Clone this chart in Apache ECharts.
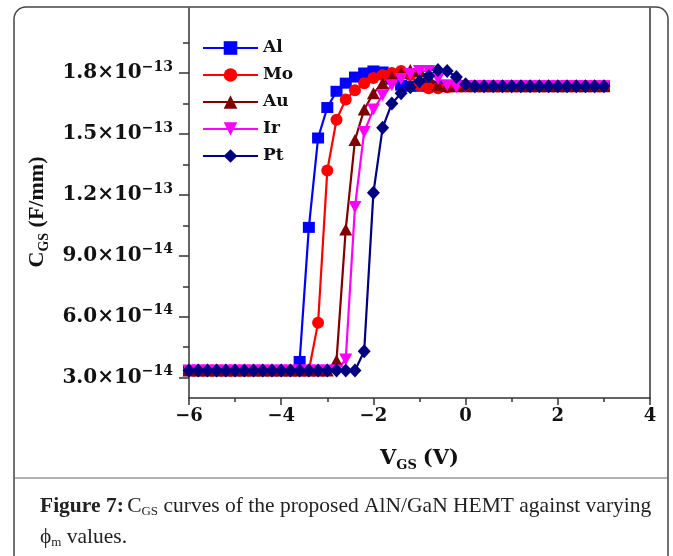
<!DOCTYPE html>
<html>
<head>
<meta charset="utf-8">
<script src="https://cdn.jsdelivr.net/npm/echarts@6/dist/echarts.min.js"></script>
<style>
html, body { margin: 0; padding: 0; background: #fff; }
#chart { width: 673px; height: 556px; }
</style>
</head>
<body>
<div id="chart"></div>
<script>
// gate voltage (V), same sweep for every metal
var vgs = [-6.0, -5.8, -5.6, -5.4, -5.2, -5.0, -4.8, -4.6, -4.4, -4.2,
  -4.0, -3.8, -3.6, -3.4, -3.2, -3.0, -2.8, -2.6, -2.4, -2.2,
  -2.0, -1.8, -1.6, -1.4, -1.2, -1.0, -0.8, -0.6, -0.4, -0.2,
  0.0, 0.2, 0.4, 0.6, 0.8, 1.0, 1.2, 1.4, 1.6, 1.8,
  2.0, 2.2, 2.4, 2.6, 2.8, 3.0];

// Cgs in units of 1e-14 F/mm
var al = [3.35, 3.35, 3.35, 3.35, 3.35, 3.35, 3.35, 3.35, 3.35, 3.35,
  3.35, 3.35, 3.8, 10.4, 14.8, 16.3, 17.1, 17.5, 17.8, 18.0,
  18.1, 18.05, 17.7, 17.4, 17.35, 17.35, 17.35, 17.35, 17.35, 17.35,
  17.35, 17.35, 17.35, 17.35, 17.35, 17.35, 17.35, 17.35, 17.35, 17.35,
  17.35, 17.35, 17.35, 17.35, 17.35, 17.35];
var mo = [3.35, 3.35, 3.35, 3.35, 3.35, 3.35, 3.35, 3.35, 3.35, 3.35,
  3.35, 3.35, 3.35, 3.35, 5.7, 13.2, 15.7, 16.7, 17.15, 17.5,
  17.75, 17.9, 18.0, 18.1, 17.9, 17.4, 17.25, 17.25, 17.3, 17.35,
  17.35, 17.35, 17.35, 17.35, 17.35, 17.35, 17.35, 17.35, 17.35, 17.35,
  17.35, 17.35, 17.35, 17.35, 17.35, 17.35];
var au = [3.35, 3.35, 3.35, 3.35, 3.35, 3.35, 3.35, 3.35, 3.35, 3.35,
  3.35, 3.35, 3.35, 3.35, 3.35, 3.35, 3.85, 10.3, 14.7, 16.2,
  17.0, 17.5, 17.8, 18.0, 18.15, 18.1, 17.8, 17.4, 17.35, 17.35,
  17.35, 17.35, 17.35, 17.35, 17.35, 17.35, 17.35, 17.35, 17.35, 17.35,
  17.35, 17.35, 17.35, 17.35, 17.35, 17.35];
var ir = [3.35, 3.35, 3.35, 3.35, 3.35, 3.35, 3.35, 3.35, 3.35, 3.35,
  3.35, 3.35, 3.35, 3.35, 3.35, 3.35, 3.35, 3.9, 11.4, 15.1,
  16.2, 16.9, 17.4, 17.7, 17.95, 18.1, 18.1, 17.7, 17.4, 17.3,
  17.35, 17.35, 17.35, 17.35, 17.35, 17.35, 17.35, 17.35, 17.35, 17.35,
  17.35, 17.35, 17.35, 17.35, 17.35, 17.35];
var pt = [3.35, 3.35, 3.35, 3.35, 3.35, 3.35, 3.35, 3.35, 3.35, 3.35,
  3.35, 3.35, 3.35, 3.35, 3.35, 3.35, 3.35, 3.35, 3.35, 4.3,
  12.1, 15.3, 16.5, 17.0, 17.3, 17.6, 17.85, 18.15, 18.1, 17.8,
  17.45, 17.35, 17.35, 17.35, 17.35, 17.35, 17.35, 17.35, 17.35, 17.35,
  17.35, 17.35, 17.35, 17.35, 17.35, 17.35];

var metals = ['Al', 'Mo', 'Au', 'Ir', 'Pt'];
var yMajor = [3, 6, 9, 12, 15, 18];
var yMinor = [4.5, 7.5, 10.5, 13.5, 16.5, 19.5];

var chart = echarts.init(document.getElementById('chart'));

var ink = '#222';
var axisLine = { onZero: false, lineStyle: { color: '#333', width: 1.5 } };
var boldFont = { fontFamily: 'DejaVu Serif', fontWeight: 'bold', color: '#111' };

var looks = [
  { data: al, color: '#0000ff', symbol: 'rect', size: [12, 11] },
  { data: mo, color: '#ff0000', symbol: 'circle', size: 12 },
  { data: au, color: '#800000', symbol: 'triangle', size: [13, 12] },
  { data: ir, color: '#ff00ff', symbol: 'triangle', size: [13, 12], rotate: 180 },
  { data: pt, color: '#000080', symbol: 'diamond', size: [13, 14] }
];

var series = looks.map(function (s, k) {
  return {
    name: metals[k],
    type: 'line',
    data: vgs.map(function (x, i) { return [x, s.data[i]]; }),
    symbol: s.symbol,
    symbolSize: s.size,
    symbolRotate: s.rotate || 0,
    showAllSymbol: true,
    color: s.color,
    itemStyle: { color: s.color },
    lineStyle: { color: s.color, width: 2.2 }
  };
});

function yLabel(v) {
  var m = v >= 10 ? (v / 10).toFixed(1) : v.toFixed(1);
  var e = v >= 10 ? '\u221213' : '\u221214';
  return '{m|' + m + '\u00d710}{s|' + e + '}';
}

var option = {
  animation: false,
  backgroundColor: '#fff',
  grid: { left: 189, right: 23, top: 8, bottom: 158 },
  legend: {
    orient: 'vertical',
    left: 197,
    top: 34,
    itemWidth: 55,
    itemHeight: 17,
    itemGap: 9,
    data: metals,
    textStyle: Object.assign({ fontSize: 17, lineHeight: 18 }, boldFont)
  },
  xAxis: {
    type: 'value',
    min: -6,
    max: 4,
    interval: 2,
    axisLine: axisLine,
    axisTick: { length: 7, lineStyle: { color: '#333', width: 1.5 } },
    minorTick: { show: true, splitNumber: 2, length: 4, lineStyle: { color: '#333', width: 1.5 } },
    splitLine: { show: false },
    axisLabel: Object.assign({
      margin: 9,
      fontSize: 18,
      formatter: function (v) { return String(v).replace('-', '\u2212'); }
    }, boldFont),
    name: '{m|V}{s|GS}{m|(V)}',
    nameLocation: 'middle',
    nameGap: 48,
    nameTextStyle: {
      rich: {
        m: Object.assign({ fontSize: 21, lineHeight: 26, verticalAlign: 'middle' }, boldFont),
        s: Object.assign({ fontSize: 13, lineHeight: 13, verticalAlign: 'bottom', padding: [0, 6, 0, 0] }, boldFont)
      }
    }
  },
  yAxis: [{
    type: 'value',
    min: 2,
    max: 21.2,
    position: 'left',
    axisLine: axisLine,
    axisTick: { customValues: yMajor, length: 10, lineStyle: { color: '#333', width: 1.5 } },
    splitLine: { show: false },
    axisLabel: {
      customValues: yMajor,
      margin: 16,
      formatter: yLabel,
      rich: {
        m: Object.assign({ fontSize: 20, lineHeight: 26, verticalAlign: 'middle' }, boldFont),
        s: Object.assign({ fontSize: 14, lineHeight: 14, verticalAlign: 'top' }, boldFont)
      }
    },
    name: '{m|C}{s|GS}{m| (F/mm)}',
    nameLocation: 'middle',
    nameRotate: 90,
    nameGap: 136,
    nameTextStyle: {
      padding: [0, 18, 0, 0],
      rich: {
        m: { fontFamily: 'Liberation Serif', fontWeight: 'bold', color: '#111', fontSize: 22, lineHeight: 28, verticalAlign: 'middle' },
        s: { fontFamily: 'Liberation Serif', fontWeight: 'bold', color: '#111', fontSize: 14, lineHeight: 14, verticalAlign: 'bottom' }
      }
    }
  }, {
    type: 'value',
    min: 2,
    max: 21.2,
    position: 'left',
    axisLine: { show: false, onZero: false },
    axisTick: { customValues: yMinor, length: 6, lineStyle: { color: '#333', width: 1.5 } },
    axisLabel: { show: false },
    splitLine: { show: false }
  }, {
    type: 'value',
    min: 2,
    max: 21.2,
    position: 'right',
    axisLine: axisLine,
    axisTick: { show: false },
    axisLabel: { show: false },
    splitLine: { show: false }
  }],
  series: series,
  graphic: [{
    type: 'rect',
    shape: { x: 14, y: 7, width: 654, height: 580, r: 12 },
    style: { fill: 'none', stroke: '#444', lineWidth: 1.5 },
    z: 100
  }, {
    type: 'line',
    shape: { x1: 14, y1: 478, x2: 668, y2: 478 },
    style: { stroke: '#666', lineWidth: 1 },
    z: 100
  }, {
    type: 'text',
    x: 40,
    y: 506,
    style: {
      text: '{b|Figure 7:} {n|C}{s|GS}{n| curves of the proposed AlN/GaN HEMT against varying}',
      verticalAlign: 'middle',
      rich: {
        b: { fontFamily: 'Liberation Serif', fontWeight: 'bold', fontSize: 21.5, lineHeight: 24, fill: ink, verticalAlign: 'middle' },
        n: { fontFamily: 'Liberation Serif', fontSize: 21.5, lineHeight: 24, fill: ink, verticalAlign: 'middle' },
        s: { fontFamily: 'Liberation Serif', fontSize: 13, lineHeight: 12, fill: ink, verticalAlign: 'bottom' }
      }
    },
    z: 100
  }, {
    type: 'text',
    x: 40,
    y: 537,
    style: {
      text: '{n|\u03d5}{s|m}{n| values.}',
      verticalAlign: 'middle',
      rich: {
        n: { fontFamily: 'Liberation Serif', fontSize: 21.5, lineHeight: 24, fill: ink, verticalAlign: 'middle' },
        s: { fontFamily: 'Liberation Serif', fontSize: 13, lineHeight: 12, fill: ink, verticalAlign: 'bottom' }
      }
    },
    z: 100
  }]
};

chart.setOption(option);
</script>
</body>
</html>
